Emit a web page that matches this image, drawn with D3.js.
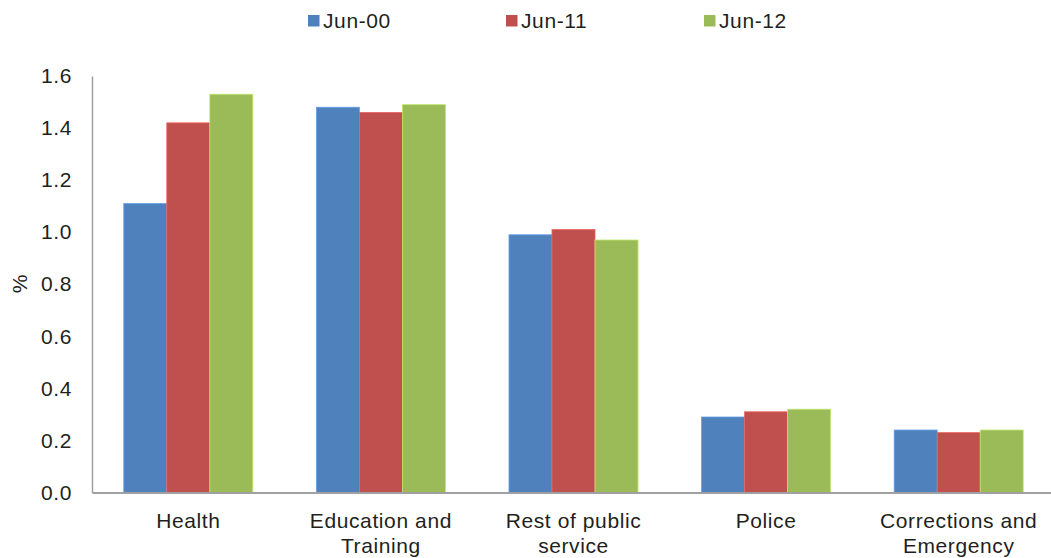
<!DOCTYPE html>
<html>
<head>
<meta charset="utf-8">
<script src="https://cdn.jsdelivr.net/npm/d3@7"></script>
<style>
  html, body { margin: 0; padding: 0; background: #fff; }
  svg { display: block; font-family: "Liberation Sans", Arial, Helvetica, sans-serif; }
</style>
</head>
<body>
<svg id="chart" width="1051" height="558"></svg>
<script>
// Public-sector employment shares by area (%)
const categories = [["Health"], ["Education and", "Training"], ["Rest of public", "service"], ["Police"], ["Corrections and", "Emergency"]];
const seriesNames = ["Jun-00", "Jun-11", "Jun-12"];
const jun00 = [1.11, 1.48, 0.99, 0.29, 0.24];
const jun11 = [1.42, 1.46, 1.01, 0.31, 0.23];
const jun12 = [1.53, 1.49, 0.97, 0.32, 0.24];
const yTicks = [0, 0.2, 0.4, 0.6, 0.8, 1.0, 1.2, 1.4, 1.6];
const colors = ["#4F81BD", "#C0504D", "#9BBB59"];

const FONT_SIZE = 21;
const LETTER_SPACING = 0.6;
const TEXT_COLOR = "#231f20";

const seriesValues = [jun00, jun11, jun12];
const rows = categories.map((c, i) => ({
  key: i,
  lines: c,
  values: seriesValues.map((s, j) => ({ series: j, value: s[i] }))
}));

const svg = d3.select("#chart");
const margin = { left: 92, right: -4, top: 76, bottom: 65.5 };
const W = 1051, H = 558;

const x0 = d3.scaleBand()
  .domain(rows.map(r => r.key))
  .range([margin.left, W - margin.right])
  .paddingInner(0.33)
  .paddingOuter(0.165);

const x1 = d3.scaleBand()
  .domain(d3.range(seriesNames.length))
  .range([0, x0.bandwidth()])
  .padding(0);

const y = d3.scaleLinear()
  .domain([0, 1.6])
  .range([H - margin.bottom, margin.top]);

// Bars
const groups = svg.append("g")
  .selectAll("g")
  .data(rows)
  .join("g")
  .attr("transform", d => `translate(${x0(d.key)},0)`);

groups.selectAll("rect")
  .data(d => d.values)
  .join("rect")
  .attr("x", d => x1(d.series))
  .attr("width", x1.bandwidth())
  .attr("y", d => y(d.value))
  .attr("height", d => y(0) - y(d.value))
  .attr("fill", d => colors[d.series])
  .attr("stroke", d => d3.color(colors[d.series]).brighter(0.6))
  .attr("stroke-width", 0.8);

// Y axis
const yAxis = d3.axisLeft(y)
  .tickValues(yTicks)
  .tickFormat(d3.format(".1f"))
  .tickSize(0)
  .tickPadding(20);

const gy = svg.append("g")
  .attr("transform", `translate(${margin.left},0)`)
  .call(yAxis);
gy.select(".domain").attr("stroke", "#a0a0a4").attr("stroke-width", 1.5);
gy.selectAll("text")
  .attr("font-size", FONT_SIZE)
  .attr("letter-spacing", LETTER_SPACING)
  .attr("fill", TEXT_COLOR)
  .attr("font-family", "Liberation Sans, Arial, sans-serif");

// X axis baseline
const xAxis = d3.axisBottom(x0).tickSize(0).tickFormat("");
const gx = svg.append("g")
  .attr("transform", `translate(0,${y(0)})`)
  .call(xAxis);
gx.select(".domain").attr("stroke", "#a0a0a4").attr("stroke-width", 2);

// Category labels (multi-line)
const labels = svg.append("g")
  .selectAll("text")
  .data(rows)
  .join("text")
  .attr("x", d => x0(d.key) + x0.bandwidth() / 2)
  .attr("y", 528)
  .attr("text-anchor", "middle")
  .attr("font-size", FONT_SIZE)
  .attr("letter-spacing", LETTER_SPACING)
  .attr("fill", TEXT_COLOR);
labels.selectAll("tspan")
  .data(d => d.lines.map(l => ({ l, x: x0(d.key) + x0.bandwidth() / 2 })))
  .join("tspan")
  .attr("x", d => d.x)
  .attr("dy", (d, i) => i === 0 ? 0 : 24.5)
  .text(d => d.l);

// Y axis title
svg.append("text")
  .attr("transform", "translate(27,284) rotate(-90)")
  .attr("text-anchor", "middle")
  .attr("font-size", FONT_SIZE)
  .attr("fill", TEXT_COLOR)
  .text("%");

// Legend
const legendX = [308, 506, 704];
const legend = svg.append("g")
  .selectAll("g")
  .data(seriesNames)
  .join("g")
  .attr("transform", (d, i) => `translate(${legendX[i]},15)`);
legend.append("rect")
  .attr("width", 11.5)
  .attr("height", 11.5)
  .attr("fill", (d, i) => colors[i]);
legend.append("text")
  .attr("x", 15)
  .attr("y", 13)
  .attr("font-size", FONT_SIZE)
  .attr("letter-spacing", LETTER_SPACING)
  .attr("fill", TEXT_COLOR)
  .text(d => d);
</script>
</body>
</html>
